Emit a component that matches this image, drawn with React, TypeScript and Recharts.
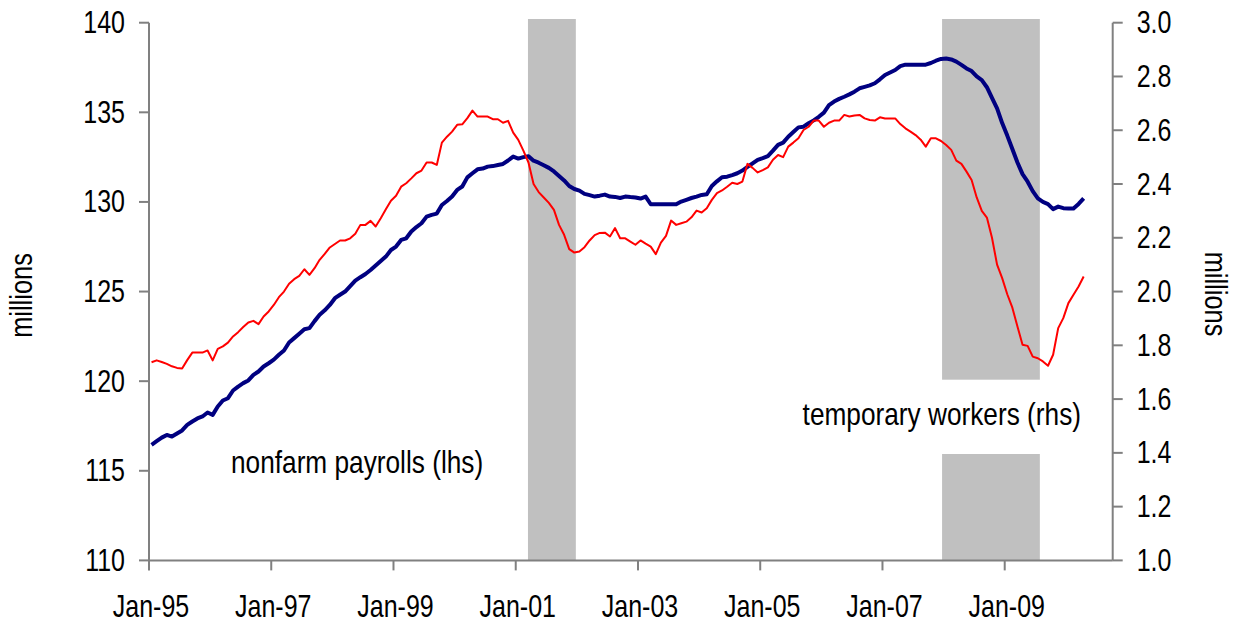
import React from 'react';
import { LineChart, Line, XAxis, YAxis, ReferenceArea } from 'recharts';

// x positions are months since Jan-95 (monthly observations plotted mid-month)
const tickMonths = [0, 24, 48, 72, 96, 120, 144, 168];
const tickLabels = ['Jan-95', 'Jan-97', 'Jan-99', 'Jan-01', 'Jan-03', 'Jan-05', 'Jan-07', 'Jan-09'];
const leftTicks = [110, 115, 120, 125, 130, 135, 140];
const rightTicks = [1.0, 1.2, 1.4, 1.6, 1.8, 2.0, 2.2, 2.4, 2.6, 2.8, 3.0];

// recessions (months since Jan-95)
const recessionStart = [74.4, 155.7];
const recessionEnd = [83.8, 174.9];

// nonfarm payrolls, millions (lhs), monthly from Jan-95
const payrolls = [
  116.45, 116.65, 116.85, 117.0, 116.91, 117.08, 117.25, 117.56, 117.75, 117.92,
  118.03, 118.25, 118.12, 118.59, 118.92, 119.05, 119.48, 119.7, 119.89, 120.04,
  120.35, 120.54, 120.82, 121.0, 121.2, 121.47, 121.71, 122.16, 122.4, 122.65,
  122.9, 122.96, 123.35, 123.7, 123.95, 124.25, 124.63, 124.82, 125.0, 125.3,
  125.61, 125.8, 125.98, 126.2, 126.45, 126.7, 126.95, 127.32, 127.51, 127.88,
  127.97, 128.35, 128.6, 128.81, 129.18, 129.28, 129.35, 129.83, 130.05, 130.3,
  130.67, 130.86, 131.37, 131.6, 131.82, 131.86, 131.97, 132.0, 132.06, 132.12,
  132.31, 132.53, 132.42, 132.5, 132.55, 132.3, 132.19, 132.05, 131.9, 131.7,
  131.45, 131.2, 130.89, 130.72, 130.63, 130.45, 130.38, 130.3, 130.35, 130.41,
  130.3, 130.28, 130.22, 130.3, 130.27, 130.25, 130.19, 130.3, 129.87, 129.87,
  129.87, 129.87, 129.87, 129.87, 130.02, 130.12, 130.22, 130.3, 130.39, 130.43,
  130.89, 131.15, 131.38, 131.41, 131.5, 131.6, 131.75, 131.95, 132.15, 132.35,
  132.45, 132.56, 132.86, 133.18, 133.31, 133.64, 133.9, 134.16, 134.2, 134.39,
  134.55, 134.75, 134.98, 135.4, 135.6, 135.75, 135.87, 136.0, 136.15, 136.34,
  136.42, 136.5, 136.62, 136.84, 137.08, 137.22, 137.36, 137.58, 137.66, 137.66,
  137.66, 137.66, 137.66, 137.75, 137.88, 137.98, 138.0, 137.95, 137.83, 137.65,
  137.45, 137.3, 137.0, 136.8, 136.4, 135.8, 135.22, 134.4, 133.7, 132.95,
  132.2, 131.55, 131.13, 130.6, 130.2, 130.0, 129.88, 129.6, 129.74, 129.65,
  129.63, 129.63, 129.89, 130.2,
];

// temporary help workers, millions (rhs), monthly from Jan-95
const tempWorkers = [
  1.737, 1.744, 1.738, 1.731, 1.722, 1.716, 1.714, 1.745, 1.773, 1.773,
  1.773, 1.781, 1.744, 1.787, 1.796, 1.81, 1.833, 1.849, 1.868, 1.885,
  1.891, 1.879, 1.907, 1.926, 1.95, 1.979, 2.0, 2.029, 2.046, 2.058,
  2.083, 2.062, 2.087, 2.118, 2.14, 2.164, 2.177, 2.19, 2.19, 2.198,
  2.215, 2.248, 2.248, 2.263, 2.242, 2.273, 2.306, 2.338, 2.356, 2.39,
  2.403, 2.421, 2.44, 2.45, 2.48, 2.48, 2.471, 2.554, 2.576, 2.595,
  2.62, 2.622, 2.645, 2.673, 2.651, 2.651, 2.651, 2.641, 2.641, 2.628,
  2.635, 2.591, 2.564, 2.524, 2.48, 2.4, 2.37, 2.35, 2.33, 2.304,
  2.248, 2.211, 2.158, 2.145, 2.149, 2.165, 2.19, 2.21, 2.218, 2.219,
  2.205, 2.236, 2.198, 2.198, 2.186, 2.174, 2.19, 2.178, 2.167, 2.139,
  2.182, 2.207, 2.264, 2.248, 2.254, 2.26, 2.276, 2.301, 2.294, 2.31,
  2.341, 2.366, 2.376, 2.39, 2.405, 2.4, 2.409, 2.475, 2.46, 2.443,
  2.452, 2.462, 2.49, 2.508, 2.5, 2.539, 2.554, 2.57, 2.601, 2.613,
  2.636, 2.636, 2.613, 2.628, 2.636, 2.636, 2.657, 2.651, 2.655, 2.657,
  2.644, 2.638, 2.636, 2.648, 2.644, 2.644, 2.644, 2.623, 2.607, 2.595,
  2.582, 2.565, 2.539, 2.57, 2.57, 2.56, 2.545, 2.527, 2.487, 2.475,
  2.446, 2.415, 2.35, 2.3, 2.275, 2.2, 2.1, 2.05, 1.99, 1.94,
  1.87, 1.802, 1.798, 1.758, 1.752, 1.74, 1.724, 1.765, 1.864, 1.901,
  1.957, 1.988, 2.019, 2.056,
];

const data = payrolls.map((v, i) => ({ t: i + 0.5, payrolls: v, temp: tempWorkers[i] }));

const FONT = "'Liberation Sans', Arial, sans-serif";
const SX = 0.82; // horizontal condensing to mimic a narrow face
const AXIS = '#808080';
const TICK_FS = 30.5;

const makeTick =
  (anchor: 'start' | 'end' | 'middle', dx: number, dy: number, fmt: (v: number) => string) =>
  (props: any) => {
    const { x, y, payload } = props;
    return (
      <g transform={`translate(${x + dx},${y + dy})`}>
        <text transform={`scale(${SX},1)`} textAnchor={anchor} fontSize={TICK_FS} fontFamily={FONT} fill="#000">
          {fmt(payload.value)}
        </text>
      </g>
    );
  };

const xTick = makeTick('middle', 2, 22.5, (v) => tickLabels[tickMonths.indexOf(v)] ?? '');
const lTick = makeTick('end', 0, 10.5, (v) => String(v));
const rTick = makeTick('start', 0, 10.5, (v) => v.toFixed(1));

function NarrowText({ x, y, rotate = 0, size, anchor, children }: any) {
  return (
    <g transform={`translate(${x},${y}) rotate(${rotate})`}>
      <text transform={`scale(${SX},1)`} textAnchor={anchor} fontSize={size} fontFamily={FONT} fill="#000">
        {children}
      </text>
    </g>
  );
}

export default function App() {
  return (
    <div style={{ position: 'absolute', left: 0, top: 0, width: 1233, height: 625, background: '#fff' }}>
      <LineChart width={1233} height={625} data={data} margin={{ top: 22.7, right: 0, bottom: 0, left: 0 }}>
        <XAxis
          type="number"
          dataKey="t"
          domain={[0, 189.2]}
          ticks={tickMonths}
          interval={0}
          height={64.6}
          tickSize={10}
          tickMargin={24}
          axisLine={{ stroke: AXIS, strokeWidth: 2 }}
          tickLine={{ stroke: AXIS, strokeWidth: 2 }}
          tick={xTick}
          allowDataOverflow
        />
        <YAxis
          yAxisId="l"
          orientation="left"
          width={149}
          domain={[110, 140]}
          ticks={leftTicks}
          interval={0}
          tickSize={10}
          tickMargin={14}
          axisLine={{ stroke: AXIS, strokeWidth: 2 }}
          tickLine={{ stroke: AXIS, strokeWidth: 2 }}
          tick={lTick}
          allowDataOverflow
        />
        <YAxis
          yAxisId="r"
          orientation="right"
          width={120.3}
          domain={[1, 3]}
          ticks={rightTicks}
          interval={0}
          tickSize={10}
          tickMargin={14}
          axisLine={{ stroke: AXIS, strokeWidth: 2 }}
          tickLine={{ stroke: AXIS, strokeWidth: 2 }}
          tick={rTick}
          allowDataOverflow
        />
        {recessionStart.map((s, i) => (
          <ReferenceArea
            key={i}
            yAxisId="r"
            x1={s}
            x2={recessionEnd[i]}
            y1={1}
            y2={3.0138}
            fill="#C0C0C0"
            fillOpacity={1}
            stroke="none"
            ifOverflow="visible"
          />
        ))}
        <Line
          yAxisId="l"
          type="linear"
          dataKey="payrolls"
          stroke="#000080"
          strokeWidth={4}
          strokeLinejoin="round"
          dot={false}
          isAnimationActive={false}
        />
        <Line
          yAxisId="r"
          type="linear"
          dataKey="temp"
          stroke="#FF0000"
          strokeWidth={2}
          strokeLinejoin="round"
          dot={false}
          isAnimationActive={false}
        />
      </LineChart>
      <svg
        width={1233}
        height={625}
        style={{ position: 'absolute', left: 0, top: 0, pointerEvents: 'none' }}
      >
        <rect x={790} y={379.7} width={300} height={74.3} fill="#fff" />
        <NarrowText x={1081} y={425} size={32} anchor="end">temporary workers (rhs)</NarrowText>
        <NarrowText x={231} y={473.3} size={32} anchor="start">nonfarm payrolls (lhs)</NarrowText>
        <NarrowText x={32} y={295.5} rotate={-90} size={31} anchor="middle">millions</NarrowText>
        <NarrowText x={1205} y={294} rotate={90} size={31} anchor="middle">millions</NarrowText>
      </svg>
    </div>
  );
}
